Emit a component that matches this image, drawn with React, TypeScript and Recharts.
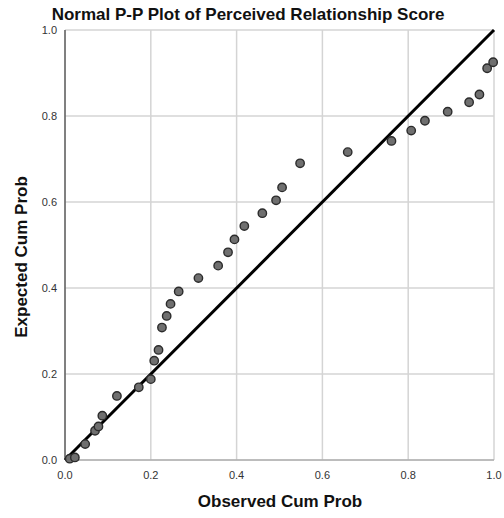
import { ScatterChart, Scatter, XAxis, YAxis, CartesianGrid, ReferenceLine } from 'recharts'

// observed vs expected cumulative probabilities
const observed = [
  0.011, 0.023, 0.047, 0.070, 0.078, 0.087, 0.121, 0.172, 0.200, 0.208,
  0.218, 0.226, 0.237, 0.246, 0.265, 0.311, 0.357, 0.380, 0.395, 0.418,
  0.460, 0.492, 0.506, 0.548, 0.659, 0.761, 0.807, 0.839, 0.892, 0.942,
  0.966, 0.984, 0.998,
]
const expected = [
  0.003, 0.006, 0.037, 0.068, 0.078, 0.103, 0.149, 0.169, 0.188, 0.231,
  0.256, 0.308, 0.335, 0.363, 0.392, 0.423, 0.452, 0.483, 0.513, 0.544,
  0.574, 0.604, 0.634, 0.690, 0.716, 0.742, 0.766, 0.789, 0.810, 0.832,
  0.850, 0.911, 0.925,
]
const ticks = [0, 0.2, 0.4, 0.6, 0.8, 1.0]

const points = observed.map((x, i) => ({ x, y: expected[i] }))

const FONT = '"Liberation Sans", Arial, sans-serif'

const Dot = (props: any) => (
  <circle cx={props.cx} cy={props.cy} r={4.2} fill="#6f6f6f" stroke="#2b2b2b" strokeWidth={1.4} />
)

const heading = { fontSize: 17, fontWeight: 'bold' as const, color: '#111', whiteSpace: 'nowrap' as const }

export default function App() {
  return (
    <div style={{ position: 'absolute', top: 0, left: 0, width: 504, height: 518, background: '#fff', fontFamily: FONT, overflow: 'visible' }}>
      <div style={{ ...heading, position: 'absolute', top: 5, left: 0, width: 496, textAlign: 'center' }}>
        Normal P-P Plot of Perceived Relationship Score
      </div>
      <div style={{ ...heading, position: 'absolute', top: 492, left: 66, width: 428, textAlign: 'center' }}>
        Observed Cum Prob
      </div>
      <div style={{ ...heading, position: 'absolute', left: 22, top: 257, transform: 'translate(-50%, -50%) rotate(-90deg)' }}>
        Expected Cum Prob
      </div>
      <ScatterChart width={504} height={518} margin={{ top: 30, right: 10, bottom: 0, left: 0 }} style={{ position: 'absolute', top: 0, left: 0, overflow: 'visible' }}>
        <CartesianGrid stroke="#d4d4d4" strokeWidth={1.5} />
        <XAxis
          type="number"
          dataKey="x"
          domain={[0, 1]}
          ticks={ticks}
          tickFormatter={(v: number) => v.toFixed(1)}
          height={58}
          tickLine={false}
          axisLine={{ stroke: '#9a9a9a' }}
          tick={{ fontSize: 11, fill: '#333', fontFamily: FONT }}
          tickMargin={5}
          interval={0}
        />
        <YAxis
          type="number"
          dataKey="y"
          domain={[0, 1]}
          ticks={ticks}
          tickFormatter={(v: number) => v.toFixed(1)}
          width={65}
          tickLine={false}
          axisLine={{ stroke: '#222' }}
          tick={{ fontSize: 11, fill: '#333', fontFamily: FONT }}
          tickMargin={2}
          interval={0}
        />
        <Scatter data={points} shape={Dot} isAnimationActive={false} />
        <ReferenceLine segment={[{ x: 0, y: 0 }, { x: 1, y: 1 }]} stroke="#000" strokeWidth={3} />
      </ScatterChart>
    </div>
  )
}
